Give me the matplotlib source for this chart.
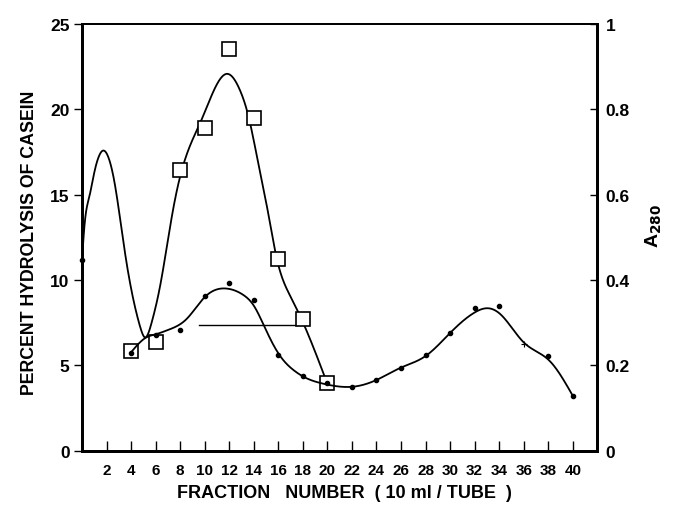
import numpy as np
import matplotlib
matplotlib.use("Agg")
from matplotlib import pyplot as plt

plt.rcParams['font.family'] = ['Liberation Sans', 'DejaVu Sans']
plt.rcParams['font.weight'] = 'bold'

# squares: percent hydrolysis of casein (left axis)
hyd_x = [4, 6, 8, 10, 12, 14, 16, 18, 20]
hyd_y = [5.85, 6.35, 16.45, 18.9, 23.5, 19.5, 11.25, 7.7, 4.0]

# dots: A280 (right axis)
a280_x = [4, 6, 8, 10, 12, 14, 16, 18, 20, 22, 24, 26, 28, 30, 32, 34, 38, 40]
a280_y = [0.230, 0.272, 0.283, 0.362, 0.393, 0.353, 0.224, 0.175, 0.158, 0.150,
          0.166, 0.195, 0.224, 0.277, 0.334, 0.339, 0.223, 0.129]
a280_plus_x = [36]
a280_plus_y = [0.250]

# hand-drawn smooth curves, knots
hyd_curve_x = [0, 0.2, 0.6, 1.0, 1.35, 1.72, 2.19, 2.6, 3.14, 3.5, 4.17, 4.72, 5.13,
               5.67, 6.35, 6.9, 7.44, 8.12, 9.75, 11.8, 12.88, 13.56,
               14.24, 15.06, 15.88, 16.96, 17.8, 19.0, 19.96]
hyd_curve_y = [11.2, 13.2, 14.9, 16.3, 17.2, 17.58, 17.1, 15.9, 13.4, 11.6, 8.9, 7.3,
               6.64, 7.5, 9.6, 11.9, 14.2, 16.4, 19.4, 22.07, 21.1, 19.6,
               17.3, 14.35, 11.23, 9.08, 7.85, 5.8, 4.0]

a280_curve_x = [4, 5.2, 6, 7, 8.53, 10, 11.8, 13.15, 14, 14.8, 15.47, 16.15, 17.2,
                18.3, 19.7, 22, 24, 26, 28, 30, 32, 33, 34.1, 36, 38.1, 40]
a280_curve_y = [0.231, 0.265, 0.273, 0.283, 0.309, 0.360, 0.380, 0.365, 0.340, 0.295,
                0.255, 0.222, 0.190, 0.170, 0.157, 0.150, 0.166, 0.195, 0.222, 0.276,
                0.324, 0.334, 0.320, 0.254, 0.211, 0.129]

# horizontal bar (left units)
bar_x = [9.5, 17.55]
bar_y = [7.35, 7.35]

xticks = list(range(2, 41, 2))
yticks_left = [0, 5, 10, 15, 20, 25]
yticks_right = [0, 0.2, 0.4, 0.6, 0.8, 1]
yticklabels_right = ['0', '0.2', '0.4', '0.6', '0.8', '1']


def natural_spline(x, y, n=600):
    x = np.asarray(x, float)
    y = np.asarray(y, float)
    k = len(x)
    h = np.diff(x)
    A = np.zeros((k, k))
    r = np.zeros(k)
    A[0, 0] = A[-1, -1] = 1
    for i in range(1, k - 1):
        A[i, i - 1] = h[i - 1]
        A[i, i] = 2 * (h[i - 1] + h[i])
        A[i, i + 1] = h[i]
        r[i] = 6 * ((y[i + 1] - y[i]) / h[i] - (y[i] - y[i - 1]) / h[i - 1])
    m = np.linalg.solve(A, r)
    xs = np.linspace(x[0], x[-1], n)
    idx = np.clip(np.searchsorted(x, xs) - 1, 0, k - 2)
    x0, x1 = x[idx], x[idx + 1]
    hh = x1 - x0
    t0, t1 = x1 - xs, xs - x0
    ys = (m[idx] * t0 ** 3 + m[idx + 1] * t1 ** 3) / (6 * hh) \
        + (y[idx] / hh - m[idx] * hh / 6) * t0 + (y[idx + 1] / hh - m[idx + 1] * hh / 6) * t1
    return xs, ys


fig = plt.figure(figsize=(6.78, 5.06), dpi=100)
ax = fig.add_axes([0.121, 0.107, 0.76, 0.844])
ax2 = ax.twinx()

cx, cy = natural_spline(hyd_curve_x, hyd_curve_y)
ax.plot(cx, cy, color='black', lw=1.3)
ax.plot(hyd_x, hyd_y, 's', ms=10, mfc='white', mec='black', mew=1.2, zorder=5)
ax.plot([0], [11.2], 'o', ms=3, color='black', clip_on=False)
ax.plot(bar_x, bar_y, color='black', lw=1.0)

dx, dy = natural_spline(a280_curve_x, a280_curve_y)
ax2.plot(dx, dy, color='black', lw=1.3)
ax2.plot(a280_x, a280_y, 'o', ms=3, color='black')
ax2.plot(a280_plus_x, a280_plus_y, '+', ms=4, mew=0.8, color='black')

ax.set_xlim(0, 42)
ax.set_ylim(0, 25)
ax2.set_ylim(0, 1)

ax.set_xticks(xticks)
ax.set_xticklabels([str(t) for t in xticks], fontsize=11, fontweight='bold')
ax.set_yticks(yticks_left)
ax.set_yticklabels([str(t) for t in yticks_left], fontsize=12.5, fontweight='bold')
ax2.set_yticks(yticks_right)
ax2.set_yticklabels(yticklabels_right, fontsize=12.5, fontweight='bold')

ax.tick_params(axis='x', direction='in', length=7, width=1, pad=9)
ax.tick_params(axis='y', direction='out', length=6, width=1, pad=3)
ax2.tick_params(axis='y', direction='in', length=5, width=1, pad=6)

for a in (ax, ax2):
    for s in ('left', 'right', 'bottom'):
        a.spines[s].set_linewidth(2)
    a.spines['top'].set_linewidth(1.3)

ax.set_xlabel('FRACTION   NUMBER  ( 10 ml / TUBE  )', fontsize=13, fontweight='bold')
ax.xaxis.set_label_coords(0.51, -0.078)
ax.set_ylabel('PERCENT HYDROLYSIS OF CASEIN', fontsize=12.8, fontweight='bold')
ax.yaxis.set_label_coords(-0.085, 0.49)
ax2.set_ylabel('A$_{\\mathbf{280}}$', fontsize=14, fontweight='bold', rotation=90)
ax2.yaxis.set_label_coords(1.09, 0.53)

plt.savefig('out.png', dpi=100)
